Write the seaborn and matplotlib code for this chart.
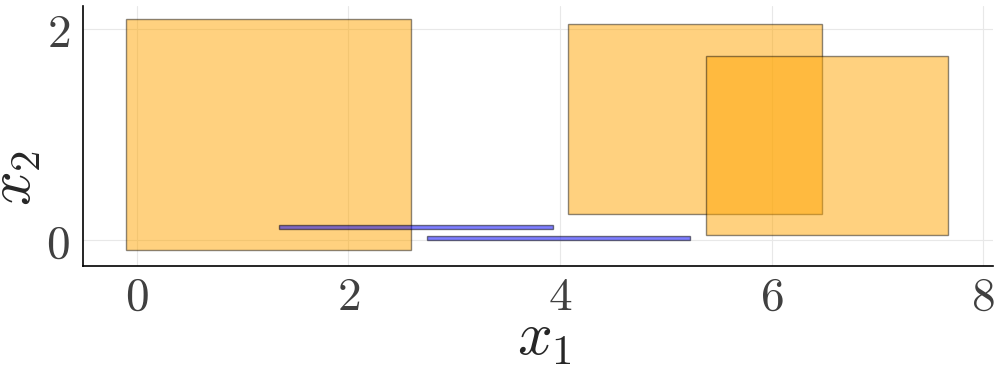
import matplotlib
matplotlib.use("Agg")
import matplotlib.pyplot as plt
import seaborn as sns
import pandas as pd

# Orange boxes (x-range, y-range)
box_xmin = [-0.10, 4.08, 5.38]
box_xmax = [2.59, 6.48, 7.67]
box_ymin = [-0.10, 0.25, 0.05]
box_ymax = [2.10, 2.05, 1.75]

# Blue thin boxes
seg_xmin = [1.345, 2.74]
seg_xmax = [3.935, 5.23]
seg_ymin = [0.10, 0.00]
seg_ymax = [0.14, 0.04]

x_ticks = [0, 2, 4, 6, 8]
y_ticks = [0, 2]

sns.set_theme(style="whitegrid")
plt.rcParams["mathtext.fontset"] = "cm"
plt.rcParams["font.family"] = ["DejaVu Serif"]

fig = plt.figure(figsize=(10, 3.66), dpi=100)
ax = fig.add_axes([0.0827, 0.2724, 0.91, 0.7112])

boxes = pd.DataFrame({"xmin": box_xmin, "xmax": box_xmax, "ymin": box_ymin, "ymax": box_ymax})
segs = pd.DataFrame({"xmin": seg_xmin, "xmax": seg_xmax, "ymin": seg_ymin, "ymax": seg_ymax})

ax.bar(boxes["xmin"], boxes["ymax"] - boxes["ymin"], width=boxes["xmax"] - boxes["xmin"],
       bottom=boxes["ymin"], align="edge", color=(1.0, 0.647, 0.0, 0.5),
       edgecolor=(0, 0, 0, 0.45), linewidth=1.0, zorder=3)
ax.bar(segs["xmin"], segs["ymax"] - segs["ymin"], width=segs["xmax"] - segs["xmin"],
       bottom=segs["ymin"], align="edge", color=(0.0, 0.0, 1.0, 0.5),
       edgecolor=(0, 0, 0, 0.5), linewidth=1.0, zorder=3)

ax.set_xlim(-0.51, 8.09)
ax.set_ylim(-0.25, 2.22)
ax.set_xticks(x_ticks)
ax.set_yticks(y_ticks)
ax.set_xticklabels([f"${t}$" for t in x_ticks])
ax.set_yticklabels([f"${t}$" for t in y_ticks])
ax.tick_params(axis="both", labelsize=34, labelcolor="#404040", color="black",
               direction="in", length=4, width=1)
ax.tick_params(axis="x", pad=6)
ax.tick_params(axis="y", pad=9)

ax.grid(True, color="#e8e8e8", linewidth=0.8, alpha=1.0)
ax.set_axisbelow(True)
ax.set_facecolor("white")
for s in ["top", "right"]:
    ax.spines[s].set_visible(False)
for s in ["left", "bottom"]:
    ax.spines[s].set_color("black")
    ax.spines[s].set_linewidth(1.2)

ax.set_xlabel("$x_1$", fontsize=44)
ax.set_ylabel("$x_2$", fontsize=44)
ax.xaxis.set_label_coords(0.507, -0.16)
ax.yaxis.set_label_coords(-0.043, 0.34)

fig.savefig("out.png", dpi=100, facecolor="white")
